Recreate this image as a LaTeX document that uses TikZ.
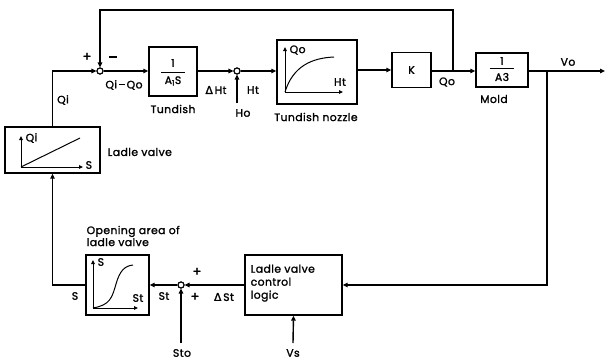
\documentclass[tikz,border=0pt]{standalone}
\usepackage{fontspec}
\setmainfont{Poppins}[FakeBold=1.6,LetterSpace=4]
\newfontfamily\grk{DejaVu Sans}[FakeBold=1.6]
\usetikzlibrary{arrows.meta}
\newcommand{\dlt}{{\grk\char"0394}}
\newcommand{\mns}{\rule[0.32em]{6pt}{1.2pt}}
\begin{document}
\begin{tikzpicture}[x=1pt,y=-1pt,
  line width=1.4pt,
  font=\fontsize{10.8}{12}\selectfont,
  blk/.style={draw,rectangle,inner sep=0pt,minimum width=#1},
  sumj/.style={draw,circle,inner sep=0pt,minimum size=6pt,line width=1.1pt,fill=white},
  arr/.style={-{Triangle[length=5pt,width=4.5pt]}},
  ax/.style={line width=1pt,-{Triangle[length=4pt,width=3.5pt]}},
  lbl/.style={inner sep=0pt},
  sgn/.style={inner sep=0pt,font=\fontsize{13}{13}\selectfont}]
\useasboundingbox (0,0) rectangle (606,360);
% blocks
\node[sumj] (s1) at (100,71) {};
\node[blk=48,minimum height=49] (tund) at (173,71.5) {};
\node[sumj] (s2) at (237,71) {};
\node[blk=80,minimum height=64] (noz) at (317,72) {};
\node[blk=39,minimum height=35] (kb) at (411.5,70) {K};
\node[blk=52,minimum height=34] (mold) at (502,70) {};
\node[blk=95,minimum height=46] (ladle) at (52.5,150) {};
\node[blk=97,minimum height=60] (ctrl) at (293.5,285) {};
\node[blk=63,minimum height=60] (open) at (117.5,285) {};
\node[sumj] (s3) at (181,285) {};
\coordinate (qo) at (453,71);
\coordinate (br) at (547,71);
\coordinate (vend) at (605,71);
\coordinate (ho) at (237,103);
\coordinate (sto) at (181,343);
\coordinate (vs) at (293,343);
% fractions
\node[lbl] (f1n) at (173,63) {1};
\node[lbl] (f1d) at (173,81) {A\textsubscript{1}S};
\draw[line width=1pt] (161,72) -- (185,72);
\node[lbl] (f2n) at (502,61) {1};
\node[lbl] (f2d) at (502,77) {A3};
\draw[line width=1pt] (490,68.5) -- (514,68.5);
% connectors
\draw[arr] (ladle.north) |- (s1);
\draw[arr] (s1) -- (tund.west |- s1);
\draw[arr] (tund.east |- s2) -- (s2);
\draw[arr] (ho) -- (s2);
\draw[arr] (s2) -- (noz.west |- s2);
\draw[arr] (noz.east |- kb) -- (kb);
\draw[arr] (kb.east |- qo) -- (mold.west |- qo);
\draw[arr] (qo) -- (453,10) -| (s1);
\draw[arr] (mold.east |- br) -- (vend);
\draw[arr] (br) |- (ctrl.east);
\draw[arr] (ctrl.west |- s3) -- (s3);
\draw[arr] (sto) -- (s3);
\draw[arr] (vs) -- (ctrl.south);
\draw[arr] (s3) -- (open.east |- s3);
\draw[arr] (open.west) -| (ladle.south);
\node[sumj] at (s1) {};
\node[sumj] at (s2) {};
\node[sumj] at (s3) {};
% inner graphs
\draw[ax] (21,167) -- (21,136);
\draw[ax] (21,167) -- (83,167);
\draw[line width=1pt] (21,167) -- (80,138);
\node[lbl,anchor=west] at (25,138) {Qi};
\node[lbl,anchor=west] at (85,165) {S};
\draw[ax] (285,92) -- (285,47);
\draw[ax] (285,92) -- (343,92);
\draw[line width=1pt] (285,92) .. controls (293,66) and (312,58) .. (334,57);
\node[lbl,anchor=west] at (289,50) {Qo};
\node[lbl] at (340,82) {Ht};
\draw[ax] (93,308) -- (93,260);
\draw[ax] (93,308) -- (138,308);
\draw[line width=1pt] (93,308) .. controls (110,305) and (112,298) .. (116,284) .. controls (120,270) and (125,266) .. (133,265);
\node[lbl,anchor=west] at (97,262) {S};
\node[lbl] at (138,298) {St};
% labels
\node[sgn] at (87,57) {+};
\node[lbl] at (113,57) {\rule{8pt}{1.3pt}};
\node[lbl] at (124,85) {Qi\,\mns\,Qo};
\node[lbl] at (63,100) {Qi};
\node[lbl] at (173,109) {Tundish};
\node[lbl] at (216,90) {\dlt\,Ht};
\node[lbl] at (253,90) {Ht};
\node[lbl] at (243,113) {Ho};
\node[lbl] at (316,117) {Tundish nozzle};
\node[lbl] at (447,82) {Qo};
\node[lbl] at (494,99) {Mold};
\node[lbl] at (568,62) {Vo};
\node[lbl,anchor=west] at (107,152) {Ladle valve};
\node[lbl,anchor=west,align=left] at (86,236) {Opening area of\\ladle valve};
\node[lbl] at (75,296) {S};
\node[lbl] at (164,296) {St};
\node[sgn] at (197,272) {+};
\node[sgn] at (195,297) {+};
\node[lbl] at (224,297) {\dlt\,St};
\node[lbl,anchor=north west,align=left,font=\fontsize{10.8}{13}\selectfont] at (250,264) {Ladle valve\\control\\logic};
\node[lbl] at (182,353) {Sto};
\node[lbl] at (293,353) {Vs};
\end{tikzpicture}
\end{document}
